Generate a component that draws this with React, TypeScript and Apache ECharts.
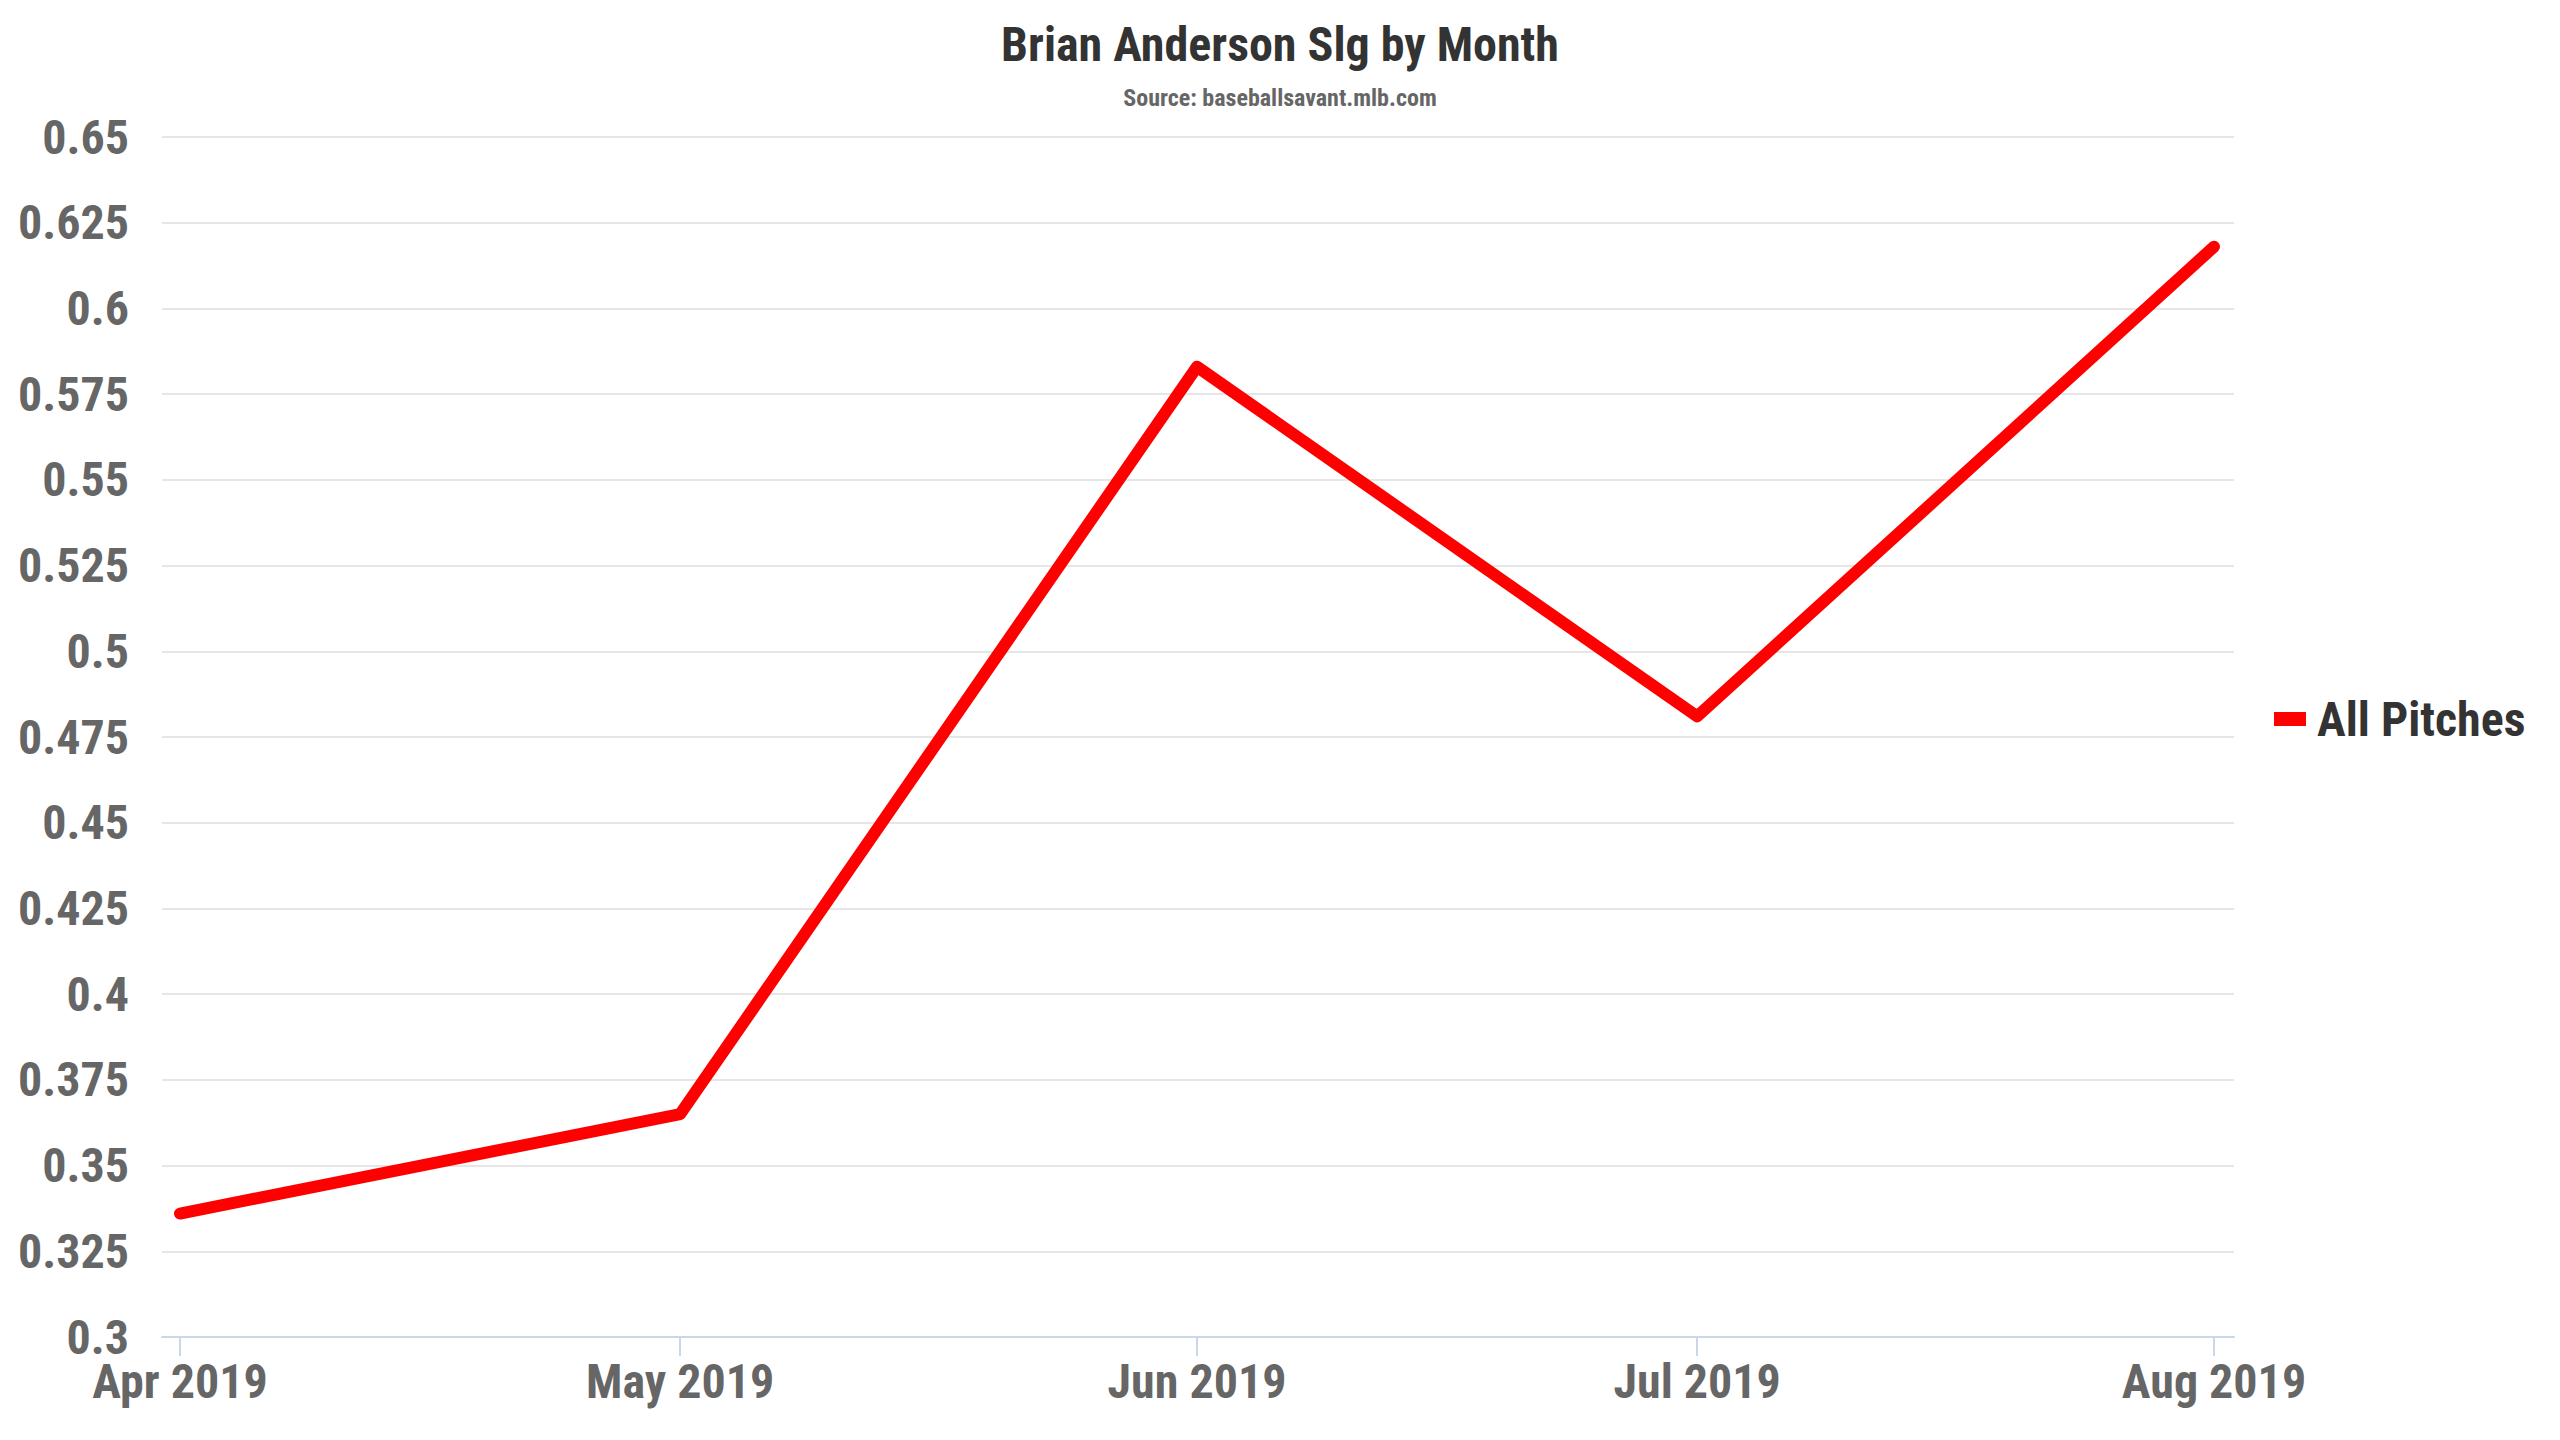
import React, { useEffect, useRef } from "react";
import * as echarts from "echarts";

const months = ["2019-04-01", "2019-05-01", "2019-06-01", "2019-07-01", "2019-08-01"];
const monthLabels = ["Apr 2019", "May 2019", "Jun 2019", "Jul 2019", "Aug 2019"];
const slgValues = [0.336, 0.365, 0.583, 0.481, 0.618];
const seriesName = "All Pitches";
const yMin = 0.3;
const yMax = 0.65;
const yStep = 0.025;

const FONT = '"Roboto Condensed", "Liberation Sans Narrow", "DejaVu Sans Condensed", sans-serif';

function dayOffset(d: string): number {
  const [y, m, dd] = d.split("-").map(Number);
  const [y0, m0, d0] = months[0].split("-").map(Number);
  return Math.round((Date.UTC(y, m - 1, dd) - Date.UTC(y0, m0 - 1, d0)) / 86400000);
}

export default function App() {
  const ref = useRef<HTMLDivElement>(null);
  useEffect(() => {
    if (!ref.current) return;
    const chart = echarts.init(ref.current, undefined, { renderer: "svg" });
    const xs = months.map(dayOffset);
    const last = xs[xs.length - 1];
    const data = xs.map((x, i) => [x, slgValues[i]]);
    const labelFor: Record<number, string> = {};
    xs.forEach((x, i) => (labelFor[x] = monthLabels[i]));
    chart.setOption({
      animation: false,
      backgroundColor: "#ffffff",
      title: [
        {
          text: "Brian Anderson Slg by Month",
          left: "center",
          top: 20,
          padding: 0,
          textStyle: { fontFamily: FONT, fontSize: 48, fontWeight: "bold", color: "#333333" },
        },
        {
          text: "Source: baseballsavant.mlb.com",
          left: "center",
          top: 86,
          padding: 0,
          textStyle: { fontFamily: FONT, fontSize: 24, fontWeight: "bold", color: "#666666" },
        },
      ],
      legend: {
        orient: "vertical",
        left: 2274,
        top: 695,
        padding: 0,
        icon: "rect",
        itemWidth: 32,
        itemHeight: 14,
        data: [{ name: seriesName, itemStyle: { color: "#ff0000" } }],
        textStyle: { fontFamily: FONT, fontSize: 48, fontWeight: "bold", color: "#333333", padding: [0, 0, 0, 6] },
      },
      grid: { left: 162, right: 326, top: 137, bottom: 103, containLabel: false },
      xAxis: {
        type: "value",
        min: -1.08,
        max: last + 1.2,
        splitLine: { show: false },
        axisLine: { show: true, lineStyle: { color: "#ccd6eb", width: 2 } },
        axisTick: { show: true, customValues: xs, length: 19, lineStyle: { color: "#ccd6eb", width: 2 } },
        axisLabel: {
          customValues: xs,
          margin: 24,
          lineHeight: 40,
          formatter: (v: number) => labelFor[Math.round(v)] ?? "",
          fontFamily: FONT,
          fontSize: 48,
          fontWeight: "bold",
          color: "#666666",
        },
      },
      yAxis: {
        type: "value",
        min: yMin,
        max: yMax,
        interval: yStep,
        axisLine: { show: false },
        axisTick: { show: false },
        splitLine: { show: true, lineStyle: { color: "#e6e6e6", width: 2 } },
        axisLabel: {
          margin: 33,
          lineHeight: 40,
          formatter: (v: number) => String(parseFloat(v.toFixed(3))),
          fontFamily: FONT,
          fontSize: 48,
          fontWeight: "bold",
          color: "#666666",
        },
      },
      series: [
        {
          name: seriesName,
          type: "line",
          data,
          showSymbol: false,
          symbol: "none",
          itemStyle: { color: "#ff0000" },
          lineStyle: { color: "#ff0000", width: 12, cap: "round", join: "round" },
        },
      ],
    });
    return () => chart.dispose();
  }, []);
  return (
    <div
      ref={ref}
      style={{ position: "absolute", left: 0, top: 0, width: 2560, height: 1440, background: "#fff" }}
    />
  );
}
